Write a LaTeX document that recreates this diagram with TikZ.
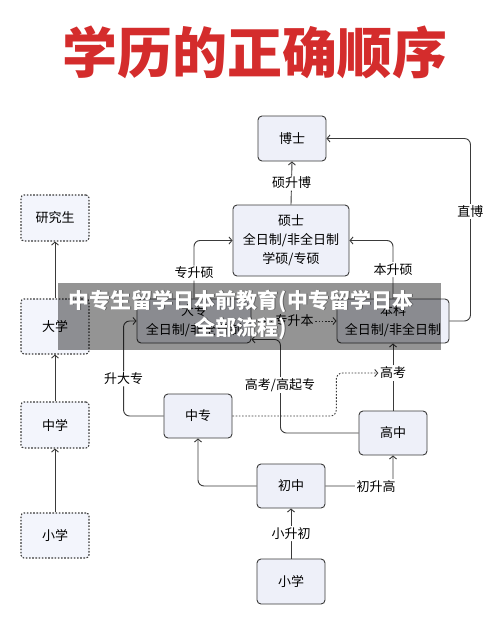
\documentclass[tikz,border=0pt]{standalone}
\usepackage{fontspec}
\setmainfont{Noto Sans CJK SC}
\usetikzlibrary{arrows.meta,calc}
\definecolor{linec}{HTML}{3A3A3A}
\definecolor{boxfill}{HTML}{EEF0F9}
\definecolor{lboxfill}{HTML}{F3F5FC}
\definecolor{titlered}{HTML}{D42C2C}
\newcommand{\fsn}{\fontsize{13}{19}\selectfont}
\begin{document}
\begin{tikzpicture}[x=1pt,y=-1pt,
  box/.style={draw=linec, line width=0.9pt, fill=boxfill, rounded corners=4pt, minimum width=68pt, minimum height=45pt, inner sep=0pt, font=\fsn, align=center},
  lbox/.style={draw=linec, line width=1.1pt, dash pattern=on 1.6pt off 1.6pt, fill=lboxfill, rounded corners=3pt, minimum width=68pt, minimum height=46pt, inner sep=0pt, font=\fsn},
  conn/.style={draw=linec, line width=0.9pt, rounded corners=6pt},
  arr/.style={-{Straight Barb[length=3pt,width=7pt]}},
  dots/.style={dash pattern=on 1.6pt off 1.6pt},
  lab/.style={fill=white, inner sep=1.5pt, font=\fsn}]
\useasboundingbox (0,0) rectangle (500,634);
\fill[white] (0,0) rectangle (500,634);

\node[font=\fontsize{55}{60}\selectfont\bfseries, text=titlered] (title) at (255,52) {学历的正确顺序};

% right column
\node[box] (boshi) at (292,138.5) {博士};
\node[box, minimum width=116pt, minimum height=71pt] (shuoshi) at (291,240.5) {硕士\\全日制/非全日制\\学硕/专硕};
\node[box, minimum width=112pt, minimum height=44pt] (benke) at (393,321) {本科\\全日制/非全日制};
\node[box, minimum width=114pt, minimum height=44pt] (dazhuan) at (194,321) {大专\\全日制/非全日制};
\node[box, minimum height=44pt] (zhongzhuan) at (198,416) {中专};
\node[box, minimum height=44pt] (gaozhong) at (393,433) {高中};
\node[box, minimum height=44pt] (chuzhong) at (291,486) {初中};
\node[box] (xiaoxue) at (291,581.5) {小学};

% left column
\node[lbox] (yjs) at (55,218) {研究生};
\node[lbox, minimum height=55pt] (daxue) at (55,326.5) {大学};
\node[lbox] (zhongxue) at (55,425) {中学};
\node[lbox, minimum height=45pt] (lxiaoxue) at (55,535.5) {小学};

\draw[conn,arr] (lxiaoxue.north) -- (zhongxue.south);
\draw[conn,arr] (zhongxue.north) -- (daxue.south);
\draw[conn,arr] (daxue.north) -- (yjs.south);

% connectors
\draw[conn,arr] (shuoshi.north) -- node[lab]{硕升博} (boshi.south);
\draw[conn,arr] (benke.east) -- ++(21,0) |- node[lab, pos=0.3]{直博} (boshi.east);
\draw[conn,arr] (benke.north) |- node[lab, pos=0.25]{本升硕} (shuoshi.east);
\draw[conn,arr] (dazhuan.north) |- node[lab, pos=0.22]{专升硕} (shuoshi.west);
\draw[conn,dots,arr] (dazhuan.east) -- node[lab]{专升本} (benke.west);
\draw[conn,arr] (zhongzhuan.west) -- ++(-40,0) |- node[lab, pos=0.195]{升大专} (dazhuan.west);
\draw[conn,arr] (gaozhong.west) -| ($(dazhuan.south east)+(29,-4)$) -- ($(dazhuan.south east)+(0,-4)$);
\node[lab] (gkgqz) at (280,385) {高考/高起专};
\node[lab] (gaokao) at (393,373) {高考};
\draw[conn,dots,arr] (zhongzhuan.east) -| ($(gaokao.west)+(-42,0)$) -- (gaokao.west);
\draw[conn] (gaozhong.north) -- (gaokao.south);
\draw[conn,arr] (gaokao.north) -- (benke.south);
\draw[conn,arr] (chuzhong.west) -| (zhongzhuan.south);
\draw[conn,arr] (chuzhong.east) -| (gaozhong.south);
\node[lab] (cshg) at (376,487) {初升高};
\draw[conn,arr] (xiaoxue.north) -- node[lab]{小升初} (chuzhong.south);

% overlay caption
\fill[black, opacity=0.42] (58,283) rectangle (441,350);
\node[text=black, opacity=0.35, font=\fontsize{21}{27}\selectfont\bfseries, align=center] at (241.8,315.3) {中专生留学日本前教育(中专留学日本\\全部流程)};
\node[text=white, font=\fontsize{21}{27}\selectfont\bfseries, align=center] (cap) at (241,314.5) {中专生留学日本前教育(中专留学日本\\全部流程)};
\end{tikzpicture}
\end{document}
